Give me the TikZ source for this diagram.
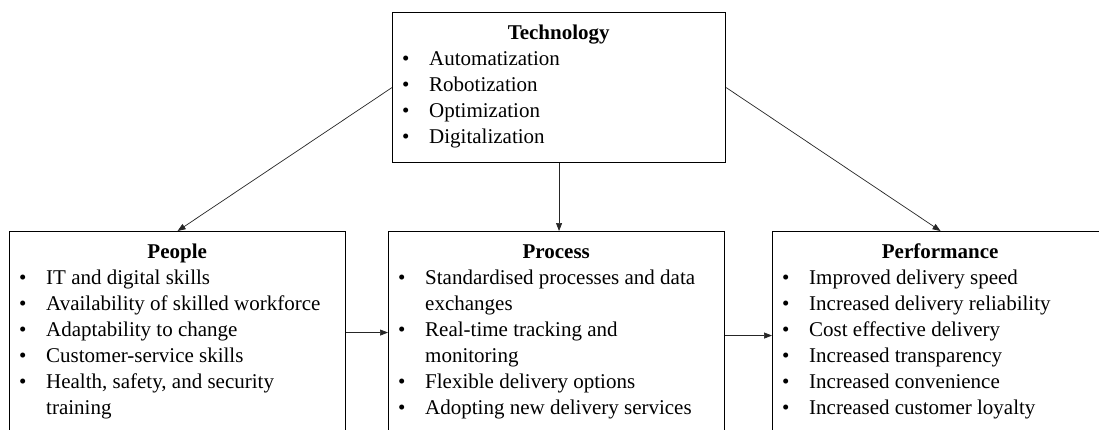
\documentclass[tikz,border=0pt]{standalone}
\usepackage{fontspec}
\setmainfont{Liberation Serif}
\usetikzlibrary{arrows.meta}
\setlength{\parskip}{0pt}
\newcommand{\myitem}[1]{\par\noindent\hspace*{10pt}\makebox[27pt][l]{•}#1}
\newcommand{\mycont}[1]{\par\noindent\hspace*{37pt}#1}
\newcommand{\mytitle}[1]{\par\noindent\makebox[\linewidth][c]{\bfseries #1}}
\tikzset{
  framebox/.style={draw=black, line width=1.1pt, anchor=north west, inner sep=0pt, minimum width=336pt},
  content/.style={anchor=base west, inner sep=0pt, font=\fontsize{21}{26}\selectfont},
  conn/.style={draw=black!85, line width=0.7pt, -{Triangle[length=8pt,width=6pt]}}
}
\begin{document}
\begin{tikzpicture}[x=1pt,y=-1pt]
\useasboundingbox (0,0) rectangle (1099,429);
\clip (0,0) rectangle (1099,429);
\fill[white] (0,0) rectangle (1099,429);
% boxes
\node[framebox, minimum width=333pt, minimum height=150pt] (tech) at (392,12) {};
\node[framebox, minimum height=202pt] (people) at (9,231) {};
\node[framebox, minimum height=208pt] (process) at (388,231) {};
\node[framebox, minimum height=208pt] (perf) at (772,231) {};
% texts
\node[content] (techtxt) at (392,39) {\parbox[t]{333pt}{%
  \mytitle{Technology}
  \myitem{Automatization}
  \myitem{Robotization}
  \myitem{Optimization}
  \myitem{Digitalization}}};
\node[content] (peopletxt) at (9,258) {\parbox[t]{336pt}{%
  \mytitle{People}
  \myitem{IT and digital skills}
  \myitem{Availability of skilled workforce}
  \myitem{Adaptability to change}
  \myitem{Customer-service skills}
  \myitem{Health, safety, and security}
  \mycont{training}}};
\node[content] (processtxt) at (388,258) {\parbox[t]{336pt}{%
  \mytitle{Process}
  \myitem{Standardised processes and data}
  \mycont{exchanges}
  \myitem{Real-time tracking and}
  \mycont{monitoring}
  \myitem{Flexible delivery options}
  \myitem{Adopting new delivery services}}};
\node[content] (perftxt) at (772,258) {\parbox[t]{336pt}{%
  \mytitle{Performance}
  \myitem{Improved delivery speed}
  \myitem{Increased delivery reliability}
  \myitem{Cost effective delivery}
  \myitem{Increased transparency}
  \myitem{Increased convenience}
  \myitem{Increased customer loyalty}}};
% connectors
\draw[conn] (tech.west) -- (people.north);
\draw[conn] (tech.south) -- (tech.south |- process.north);
\draw[conn] (tech.east) -- (perf.north);
\draw[conn] (people.east) -- (people.east -| process.west);
\draw[conn] (process.east) -- (process.east -| perf.west);
\end{tikzpicture}
\end{document}
